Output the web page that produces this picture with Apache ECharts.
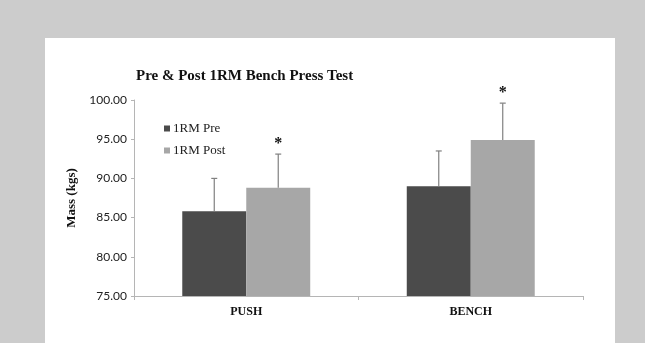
<!DOCTYPE html>
<html><head><meta charset="utf-8">
<script src="https://cdn.jsdelivr.net/npm/echarts@6/dist/echarts.min.js"></script>
<style>html,body{margin:0;padding:0;background:#cccccc;}#c{width:645px;height:343px;}</style>
</head><body><div id="c"></div>
<script>
var categories = ['PUSH', 'BENCH'];
var preMean = [85.8, 89.0];
var postMean = [88.8, 94.9];
var preUpper = [90.0, 93.5];
var postUpper = [93.1, 99.6];
var significant = ['*', '*'];
var yTicks = [75, 80, 85, 90, 95, 100];

var chart = echarts.init(document.getElementById('c'), null, {renderer: 'canvas'});
var catGapFrac = 0.43;

function errItem(seriesSide, upperArr, mark) {
  return function (params, api) {
    var i = api.value(0);
    var base = api.coord([i, api.value(1)]);
    var top = api.coord([i, api.value(2)]);
    var band = api.size([1, 0])[0];
    var bw = band * (1 - catGapFrac) / 2;
    var x = base[0] + seriesSide * bw / 2;
    var children = [
      {type: 'line', shape: {x1: x, y1: base[1], x2: x, y2: top[1]}, style: {stroke: '#808080', lineWidth: 1.2}},
      {type: 'line', shape: {x1: x - 3, y1: top[1], x2: x + 3, y2: top[1]}, style: {stroke: '#808080', lineWidth: 1.2}}
    ];
    if (mark) {
      children.push({type: 'text', x: x, y: top[1] - 2, style: {text: significant[i], fill: '#111', font: 'bold 16px "Liberation Serif"', align: 'center', verticalAlign: 'bottom'}});
    }
    return {type: 'group', children: children};
  };
}

var option = {
  backgroundColor: '#cccccc',
  animation: false,
  graphic: [{type: 'rect', shape: {x: 45, y: 38, width: 570, height: 320}, style: {fill: '#ffffff'}, z: -10}],
  title: {text: 'Pre & Post 1RM Bench Press Test', left: 131, top: 64,
    textStyle: {fontFamily: 'Liberation Serif', fontWeight: 'bold', fontSize: 15, color: '#111'}},
  legend: {orient: 'vertical', left: 159, top: 117, itemWidth: 6, itemHeight: 6, itemGap: 9,
    icon: 'rect', textStyle: {fontFamily: 'Liberation Serif', fontSize: 13, color: '#222', padding: [0,0,0,-2]},
    data: ['1RM Pre', '1RM Post']},
  grid: {left: 134, right: 62, top: 100, bottom: 47},
  xAxis: {type: 'category', data: categories,
    axisLine: {lineStyle: {color: '#b5b5b5', width: 1}},
    axisTick: {show: true, length: 4, lineStyle: {color: '#b5b5b5'}},
    axisLabel: {fontFamily: 'Liberation Serif', fontWeight: 'bold', fontSize: 12, color: '#111', margin: 10}},
  yAxis: {type: 'value', min: 75, max: 100, interval: 5,
    axisLine: {show: true, lineStyle: {color: '#b5b5b5'}},
    axisTick: {show: true, length: 3, lineStyle: {color: '#b5b5b5'}},
    splitLine: {show: false},
    axisLabel: {fontFamily: 'Lato', fontSize: 12, color: '#222', margin: 7,
      formatter: function (v) { return v.toFixed(2); }},
    name: 'Mass (kgs)', nameLocation: 'middle', nameGap: 46, nameRotate: 90,
    nameTextStyle: {fontFamily: 'Liberation Serif', fontWeight: 'bold', fontSize: 13, color: '#111'}},
  series: [
    {name: '1RM Pre', type: 'bar', data: preMean, barGap: '0%', barCategoryGap: '43%',
      itemStyle: {color: '#4b4b4b'}},
    {name: '1RM Post', type: 'bar', data: postMean, barGap: '0%', barCategoryGap: '43%',
      itemStyle: {color: '#a7a7a7'}},
    {type: 'custom', renderItem: errItem(-1, preUpper, false), z: 5,
      data: categories.map(function (c, i) { return [i, preMean[i], preUpper[i]]; })},
    {type: 'custom', renderItem: errItem(1, postUpper, true), z: 5,
      data: categories.map(function (c, i) { return [i, postMean[i], postUpper[i]]; })}
  ]
};
chart.setOption(option);
</script></body></html>
